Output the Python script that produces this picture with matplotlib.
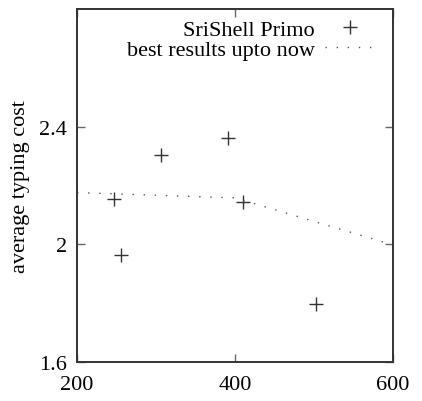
import matplotlib
matplotlib.use("Agg")
import matplotlib.pyplot as plt

# ---------- Data ----------
srishell_x = [247, 256, 306, 391, 410, 503]
srishell_y = [2.155, 1.963, 2.305, 2.362, 2.143, 1.798]

best_x = [200, 400, 600]
best_y = [2.176, 2.158, 1.998]

x_ticks = [200, 400, 600]
y_ticks = [1.6, 2.0, 2.4]
y_tick_labels = ["1.6", "2", "2.4"]

plt.rcParams["font.family"] = ["Liberation Serif", "DejaVu Serif"]
plt.rcParams["font.size"] = 16

fig = plt.figure(figsize=(4.22, 4.02), dpi=100)
ax = fig.add_axes([77 / 422, 1 - 363 / 402, (393 - 77) / 422, (363 - 10) / 402])

dark = "#333333"
ax.plot(srishell_x, srishell_y, linestyle="none", marker="+", markersize=10,
        markeredgewidth=1.0, color=dark, label="SriShell Primo")
ax.plot(best_x, best_y, linestyle=(0, (1, 7)), linewidth=1.0, color="#555555",
        label="best results upto now")

ax.set_xlim(200, 600)
ax.set_ylim(1.6, 2.8)
ax.set_xticks(x_ticks)
ax.set_yticks(y_ticks)
ax.set_yticklabels(y_tick_labels)
ax.tick_params(direction="in", top=True, right=True, length=6, width=1.0,
               color="#666666", labelsize=16)
ax.tick_params(axis="x", pad=9)
ax.tick_params(axis="y", pad=7)
for s in ax.spines.values():
    s.set_linewidth(1.4)
    s.set_color(dark)

ax.set_ylabel("average typing cost", fontsize=16, labelpad=7)

ax.legend(loc="upper right", frameon=False, markerfirst=False, fontsize=16,
          handlelength=2.25, handletextpad=0.45, labelspacing=-0.02,
          borderpad=0, borderaxespad=0, bbox_to_anchor=(0.943, 0.970))

fig.savefig("out.png", dpi=100)
